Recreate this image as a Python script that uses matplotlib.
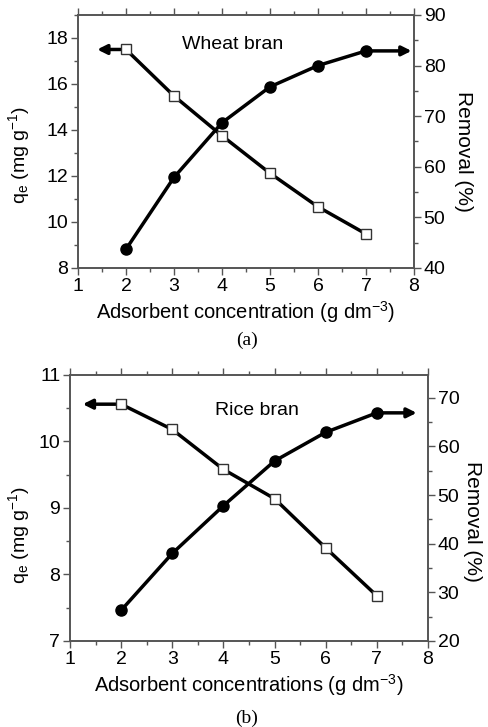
import matplotlib
matplotlib.use('Agg')
import matplotlib.pyplot as plt
from matplotlib.ticker import MultipleLocator

plt.rcParams['font.family'] = ['Liberation Sans', 'DejaVu Sans']
plt.rcParams['mathtext.fontset'] = 'custom'
plt.rcParams['mathtext.rm'] = 'Liberation Sans'
plt.rcParams['mathtext.it'] = 'Liberation Sans:italic'

# === Data ===
dose = [2, 3, 4, 5, 6, 7]

wheat_qe = [17.5, 15.48, 13.75, 12.12, 10.66, 9.48]
wheat_removal = [43.7, 57.9, 68.7, 75.8, 80.0, 82.9]

rice_qe = [10.56, 10.18, 9.58, 9.14, 8.40, 7.68]
rice_removal = [26.3, 38.0, 47.8, 57.0, 62.9, 66.9]

FS = 14
SPINE = '#555555'


def style_axes(ax):
    for s in ax.spines.values():
        s.set_color(SPINE)
        s.set_linewidth(1.2)
    ax.tick_params(which='both', direction='out', color=SPINE, width=1.0,
                   labelsize=FS, pad=2)
    ax.tick_params(which='major', length=5)
    ax.tick_params(which='minor', length=3)


def panel(rect, qe, removal, ylim_l, ylim_r, yminor_l, name, name_xy,
          xlabel, caption, cap_y, left_tip, right_tip, lab_l, lab_r):
    ax = fig.add_axes(rect)
    ax.set_xlim(1, 8)
    ax.set_ylim(*ylim_l)
    ax.set_xticks(range(1, 9))
    ax.set_xticks([i + 0.5 for i in range(1, 8)], minor=True)
    ax.yaxis.set_minor_locator(MultipleLocator(yminor_l))
    ax.tick_params(axis='x', which='both', top=True, labeltop=False)
    style_axes(ax)

    ax2 = ax.twinx()
    ax2.set_ylim(*ylim_r)
    ax2.yaxis.set_major_locator(MultipleLocator(10))
    ax2.yaxis.set_minor_locator(MultipleLocator(5))
    style_axes(ax2)

    ax.plot(dose, qe, '-', color='black', lw=2.5, marker='s', ms=7,
            mfc='white', mec='#333333', mew=1.0, zorder=3)
    ax2.plot(dose, removal, '-', color='black', lw=2.5, marker='o', ms=8,
             mfc='black', mec='black', zorder=3)

    ax.annotate('', xy=(left_tip, qe[0]), xytext=(dose[0], qe[0]),
                arrowprops=dict(arrowstyle='-|>', lw=2.5, color='black',
                                mutation_scale=14, shrinkA=4, shrinkB=0),
                zorder=2)
    ax2.annotate('', xy=(right_tip, removal[-1]), xytext=(dose[-1], removal[-1]),
                 arrowprops=dict(arrowstyle='-|>', lw=2.5, color='black',
                                 mutation_scale=14, shrinkA=4, shrinkB=0),
                 zorder=2)

    ax.text(name_xy[0], name_xy[1], name, fontsize=FS, ha='center', va='center')
    ax.set_xlabel(xlabel, fontsize=14.5, labelpad=3)
    ax.set_ylabel(r'q$_\mathregular{e}$ (mg g$^\mathregular{-1}$)', fontsize=14)
    ax.yaxis.set_label_coords(*lab_l)
    ax2.set_ylabel('Removal (%)', fontsize=15, rotation=270,
                   va='bottom', ha='center')
    ax2.yaxis.set_label_coords(*lab_r)
    fig.text(0.505, cap_y, caption, fontsize=FS, ha='center', va='center',
             family='Liberation Serif')
    return ax, ax2


fig = plt.figure(figsize=(4.89, 7.27), dpi=100)

panel([0.1595, 0.6314, 0.687, 0.348], wheat_qe, wheat_removal,
      (8, 19), (40, 90), 1, 'Wheat bran', (4.23, 17.7),
      r'Adsorbent concentration (g dm$^\mathregular{-3}$)', '(a)', 1 - 340 / 727,
      1.4, 7.95, (-0.137, 0.447), (1.12, 0.462))

panel([0.1431, 0.1183, 0.732, 0.366], rice_qe, rice_removal,
      (7, 11), (20, 74.7), 0.5, 'Rice bran', (4.66, 10.46),
      r'Adsorbent concentrations (g dm$^\mathregular{-3}$)', '(b)', 1 - 718 / 727,
      1.25, 7.78, (-0.106, 0.40), (1.098, 0.45))

fig.savefig('out.png', dpi=100)
